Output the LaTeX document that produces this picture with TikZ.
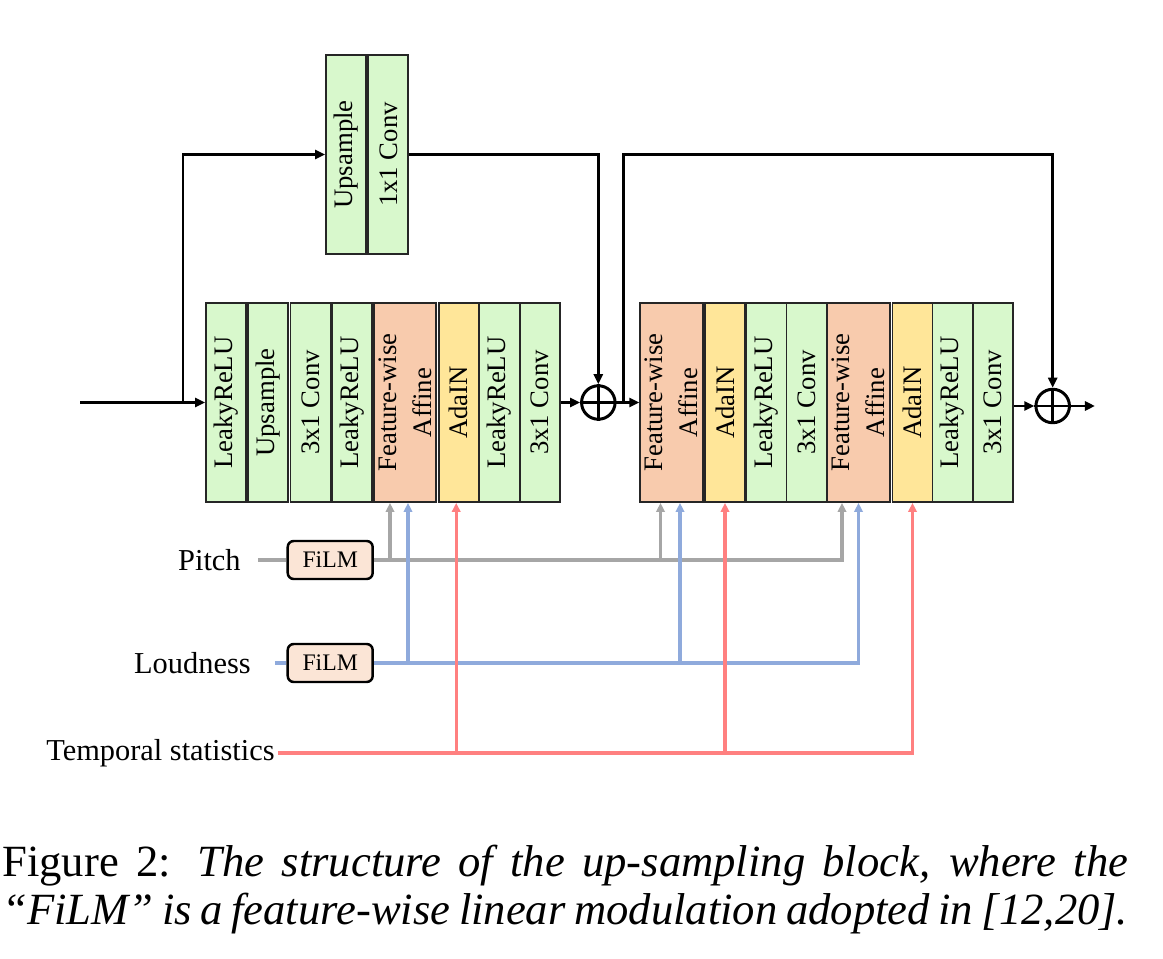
\documentclass[tikz,border=0pt]{standalone}
\usepackage{fontspec}
\setmainfont{Liberation Serif}
\usepackage{graphicx}
\usepackage{xcolor}
\usetikzlibrary{arrows.meta}
\definecolor{actgreen}{RGB}{216,248,204}
\definecolor{affpeach}{RGB}{248,203,173}
\definecolor{adayellow}{RGB}{255,230,153}
\definecolor{filmpeach}{RGB}{251,229,214}
\definecolor{pitchgray}{RGB}{166,166,166}
\definecolor{loudblue}{RGB}{143,170,220}
\definecolor{tempred}{RGB}{255,128,128}
\newcommand{\vlab}[1]{\rotatebox{90}{\parbox{3.6cm}{\centering #1}}}
\newcommand{\labfont}{\fontsize{17.3}{20}\selectfont}
\newcommand{\capfont}{\fontsize{25.4}{28}\selectfont}
\tikzset{
 blk/.style={draw=black!85,line width=1.1pt,minimum height=3.98cm,inner sep=0pt,font=\fontsize{15.2}{19.8}\selectfont},
 act/.style={blk,fill=actgreen,minimum width=0.8cm},
 aff/.style={blk,fill=affpeach,minimum width=1.25cm},
 ada/.style={blk,fill=adayellow,minimum width=0.8cm},
 film/.style={draw,line width=1.4pt,rounded corners=0.12cm,fill=filmpeach,minimum width=1.7cm,minimum height=0.76cm,font=\fontsize{13.5}{16}\selectfont},
 sum/.style={draw,circle,line width=1.7pt,minimum size=0.67cm,inner sep=0pt},
 flow/.style={line width=1.7pt,-{Triangle[length=5.7pt,width=5.1pt]}},
 ctip/.style={-{Triangle[length=5.1pt,width=4.8pt]}},
 pline/.style={line width=1.8pt,pitchgray},
 lline/.style={line width=1.8pt,loudblue},
 tline/.style={line width=1.8pt,tempred}
}
\begin{document}
\begin{tikzpicture}[x=0.02cm,y=-0.02cm]
\useasboundingbox (0,0) rectangle (1163,959);
\node[act](u1)at(346,154.5){\vlab{Upsample}};
\node[act](u2)at(388.3,154.5){\vlab{1x1 Conv}};
\node[act](l1)at(226,402.5){\vlab{LeakyReLU}};
\node[act](l2)at(268,402.5){\vlab{Upsample}};
\node[act](l3)at(310.5,402.5){\vlab{3x1 Conv}};
\node[act](l4)at(352.3,402.5){\vlab{LeakyReLU}};
\node[aff](l5)at(405,402.5){\vlab{Feature-wise\\Affine}};
\node[ada](l6)at(458.7,402.5){\vlab{AdaIN}};
\node[act](l7)at(499.5,402.5){\vlab{LeakyReLU}};
\node[act](l8)at(539.6,402.5){\vlab{3x1 Conv}};
\node[aff](r1)at(671.5,402.5){\vlab{Feature-wise\\Affine}};
\node[ada](r2)at(725,402.5){\vlab{AdaIN}};
\node[act](r3)at(766.5,402.5){\vlab{LeakyReLU}};
\node[act](r4)at(806.5,402.5){\vlab{3x1 Conv}};
\node[aff](r5)at(858.5,402.5){\vlab{Feature-wise\\Affine}};
\node[ada](r6)at(912.5,402.5){\vlab{AdaIN}};
\node[act](r7)at(952.5,402.5){\vlab{LeakyReLU}};
\node[act](r8)at(993,402.5){\vlab{3x1 Conv}};
\node[sum](s1)at(598.3,402.5){};
\node[sum](s2)at(1052.7,406){};
\draw[line width=1.7pt](s1.north)--(s1.south)(s1.west)--(s1.east)(s2.north)--(s2.south)(s2.west)--(s2.east);
\coordinate(in)at(80,402.5);\coordinate(b1)at(183,402.5);
\coordinate(b2)at(623,402.5);\coordinate(out)at(1095,406);
\draw[flow](in)--(l1);
\draw[flow](b1)|-(u1);
\draw[flow](u2)-|(s1);
\draw[flow](l8)--(s1);
\draw[flow](s1)--(r1);
\draw[flow](b2)|-(s2|-u2)--(s2);
\draw[flow](r8.east|-s2)--(s2);
\draw[flow](s2)--(out);
\node[anchor=east,inner sep=0pt,font=\labfont](pitch)at(241,560){Pitch};
\node[anchor=east,inner sep=0pt,font=\labfont](loud)at(251,663){Loudness};
\node[anchor=east,inner sep=0pt,font=\labfont](temp)at(275,753){Temporal statistics};
\node[film](f1)at(330.2,560){FiLM};
\node[film](f2)at(330.2,663){FiLM};
\draw[pline]([xshift=0.34cm]pitch.east)--(f1);
\draw[pline,ctip](f1)-|([xshift=-0.33cm]r5.south);
\draw[pline,ctip]([xshift=-0.3cm]l5.south|-f1)--([xshift=-0.3cm]l5.south);
\draw[pline,ctip]([xshift=-0.22cm]r1.south|-f1)--([xshift=-0.22cm]r1.south);
\draw[lline]([xshift=0.48cm]loud.east)--(f2);
\draw[lline,ctip](f2)-|(r5.south);
\draw[lline,ctip]([xshift=0.06cm]l5.south|-f2)--([xshift=0.06cm]l5.south);
\draw[lline,ctip]([xshift=0.17cm]r1.south|-f2)--([xshift=0.17cm]r1.south);
\draw[tline,ctip]([xshift=0.06cm]temp.east)-|(r6.south);
\draw[tline,ctip]([xshift=-0.05cm]l6.south|-temp)--([xshift=-0.05cm]l6.south);
\draw[tline,ctip](r2.south|-temp)--(r2.south);
\node[anchor=base west,inner sep=0pt,font=\capfont](cap1)at(2,876){\makebox[22.52cm][s]{Figure 2: \textit{The structure of the up-sampling block, where the}}};
\node[anchor=base west,inner sep=0pt,font=\capfont](cap2)at(2,924){\makebox[22.52cm][s]{\textit{“FiLM” is a feature-wise linear modulation adopted in [12,20].}}};
\end{tikzpicture}
\end{document}
